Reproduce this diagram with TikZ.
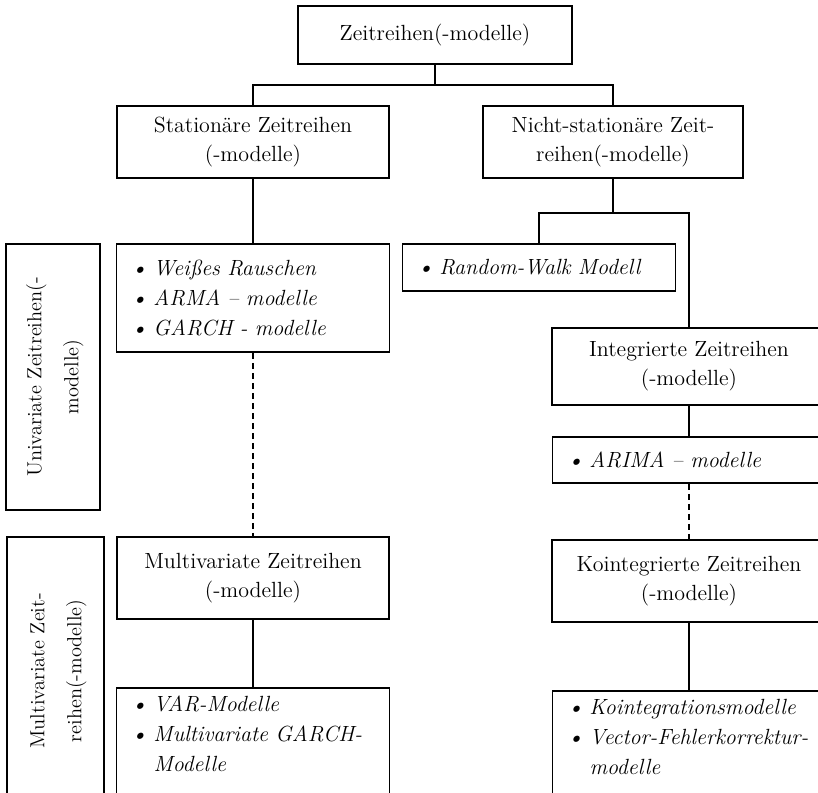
\documentclass[tikz,border=0pt]{standalone}
\usepackage{fontspec}
\usepackage{graphicx}
\usetikzlibrary{positioning}

\newcommand{\bul}{\makebox[0.45cm][l]{\textbullet}}
\newcommand{\hang}{\hspace*{0.45cm}}
\newcommand{\sidetext}[2]{\rotatebox{90}{\fontsize{11.6}{21}\selectfont\begin{tabular}{@{}c@{}}#1\\#2\end{tabular}}}

\begin{document}
\begin{tikzpicture}[
    node distance=0.82cm,
    every node/.style={font=\fontsize{12.5}{16.5}\selectfont},
    box/.style={draw, line width=1.1pt, align=center, minimum height=1.44cm, minimum width=5.44cm},
    listbox/.style={draw, line width=1.1pt, align=left, text width=4.88cm, inner xsep=0.29cm, font=\fontsize{12.5}{17}\selectfont\itshape},
    sidebox/.style={draw, line width=1.1pt, minimum width=1.88cm},
    link/.style={line width=1.1pt},
    gaplink/.style={line width=1.1pt, dash pattern=on 0.12cm off 0.08cm}
]
\useasboundingbox (0,0) rectangle (16.36,-15.86);
\clip (0,0) rectangle (16.36,-15.86);

% top and the two main branches
\node[box, minimum width=5.48cm, minimum height=1.16cm] (root) at (8.70,-0.70) {Zeitreihen(-modelle)};
\node[box, below=0.8cm of root, xshift=-3.64cm] (stat) {Stationäre Zeitreihen\\(-modelle)};
\node[box, minimum width=5.20cm, below=0.8cm of root, xshift=3.56cm] (nonstat) {Nicht-stationäre Zeit-\\reihen(-modelle)};

% stationary column
\node[listbox, minimum height=2.16cm, below=1.28cm of stat] (statlist) {\bul Weißes Rauschen\\\bul ARMA -- modelle\\\bul GARCH - modelle};
\node[box, minimum height=1.64cm, below=3.66cm of statlist] (multi) {Multivariate Zeitreihen\\(-modelle)};
\node[listbox, inner ysep=0.17cm, text depth=2.4cm, below=1.34cm of multi] (multilist) {\bul VAR-Modelle\\\bul Multivariate GARCH-\\\hang Modelle};

% non-stationary column
\node[listbox, minimum height=0.94cm, below=1.28cm of nonstat, xshift=-1.48cm] (rw) {\bul Random-Walk Modell};
\node[box, minimum width=5.48cm, minimum height=1.54cm, below=2.96cm of nonstat, xshift=1.52cm] (integ) {Integrierte Zeitreihen\\(-modelle)};
\node[listbox, minimum height=0.92cm, below=0.6cm of integ] (arima) {\bul ARIMA -- modelle};
\node[box, minimum width=5.48cm, minimum height=1.64cm, below=1.1cm of arima] (koint) {Kointegrierte Zeitreihen\\(-modelle)};
\node[listbox, inner ysep=0.17cm, text depth=2.4cm, below=1.34cm of koint] (kointlist) {\bul Kointegrationsmodelle\\\bul Vector-Fehlerkorrektur-\\\hang modelle};

% side labels
\node[sidebox, minimum height=5.32cm, anchor=north east] (uni) at ([xshift=-0.3cm]statlist.north west)
    {\sidetext{Univariate Zeitreihen(-}{modelle)}};
\node[sidebox, minimum width=1.94cm, minimum height=5.36cm, anchor=north east] (multiside) at ([xshift=-0.22cm]multi.north west)
    {\sidetext{Multivariate Zeit-}{reihen(-modelle)}};

% connectors
\coordinate (fork) at ([yshift=-0.4cm]root.south);
\coordinate (fork2) at ([yshift=-0.68cm]nonstat.south);
\draw[link] (root.south) -- (fork);
\draw[link] (stat.north) |- (fork) -| (nonstat.north);
\draw[link] (stat.south) -- (statlist.north);
\draw[gaplink] (statlist.south) -- (multi.north);
\draw[link] (multi.south) -- (multilist.north);
\draw[link] (nonstat.south) -- (fork2);
\draw[link] (rw.north) |- (fork2) -| (integ.north);
\draw[link] (integ.south) -- (arima.north);
\draw[gaplink] (arima.south) -- (koint.north);
\draw[link] (koint.south) -- (kointlist.north);
\end{tikzpicture}
\end{document}
